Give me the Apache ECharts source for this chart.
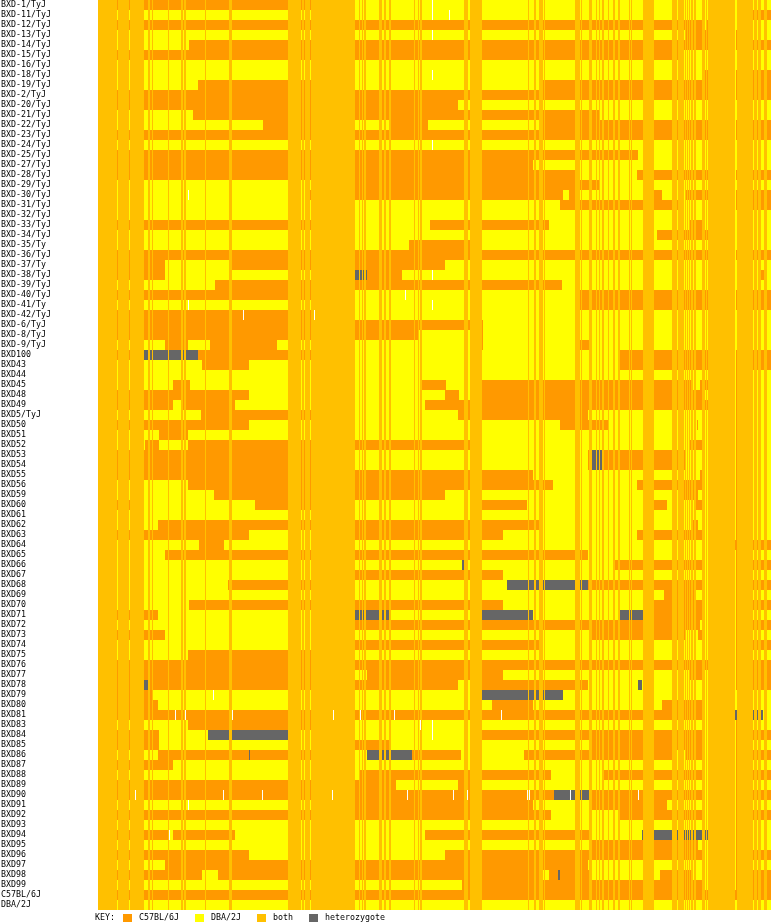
<!DOCTYPE html>
<html><head><meta charset="utf-8">
<style>html,body{margin:0;padding:0;background:#fff}#c{width:771px;height:922px}</style>
<script src="https://cdn.jsdelivr.net/npm/echarts@6/dist/echarts.min.js"></script>
</head><body><div id="c"></div>
<script>
const strains=["BXD-1/TyJ","BXD-11/TyJ","BXD-12/TyJ","BXD-13/TyJ","BXD-14/TyJ","BXD-15/TyJ","BXD-16/TyJ","BXD-18/TyJ","BXD-19/TyJ","BXD-2/TyJ","BXD-20/TyJ","BXD-21/TyJ","BXD-22/TyJ","BXD-23/TyJ","BXD-24/TyJ","BXD-25/TyJ","BXD-27/TyJ","BXD-28/TyJ","BXD-29/TyJ","BXD-30/TyJ","BXD-31/TyJ","BXD-32/TyJ","BXD-33/TyJ","BXD-34/TyJ","BXD-35/Ty","BXD-36/TyJ","BXD-37/Ty","BXD-38/TyJ","BXD-39/TyJ","BXD-40/TyJ","BXD-41/Ty","BXD-42/TyJ","BXD-6/TyJ","BXD-8/TyJ","BXD-9/TyJ","BXD100","BXD43","BXD44","BXD45","BXD48","BXD49","BXD5/TyJ","BXD50","BXD51","BXD52","BXD53","BXD54","BXD55","BXD56","BXD59","BXD60","BXD61","BXD62","BXD63","BXD64","BXD65","BXD66","BXD67","BXD68","BXD69","BXD70","BXD71","BXD72","BXD73","BXD74","BXD75","BXD76","BXD77","BXD78","BXD79","BXD80","BXD81","BXD83","BXD84","BXD85","BXD86","BXD87","BXD88","BXD89","BXD90","BXD91","BXD92","BXD93","BXD94","BXD95","BXD96","BXD97","BXD98","BXD99","C57BL/6J","DBA/2J"];
// marker spans where both parents share the allele
const sharedSpans=[[98,117],[118,129],[130,144],[148,150],[152,153],[168,169],[181,183],[184,186],[205,206],[229,232],[288,301],[302,304],[305,310],[311,355],[359,360],[362,363],[364,366],[379,382],[384,386],[389,391],[414,415],[418,419],[420,422],[464,468],[470,482],[528,529],[534,536],[539,543],[544,545],[575,580],[581,582],[589,592],[596,597],[599,600],[602,604],[608,609],[613,615],[618,620],[629,630],[631,632],[643,654],[672,677],[678,684],[685,686],[687,688],[689,690],[691,693],[694,696],[702,705],[706,707],[708,735],[737,753],[754,757],[758,761],[764,767]];
// per strain: genotype code + marker position where that genotype starts
// O=C57BL/6J, Y=DBA/2J, H=heterozygote, W=no call
const genotypeRuns=[
"O98 Y330 W432 Y433",
"Y98 W432 Y433 W449 Y450 O745",
"O98 Y703 O707 Y708",
"Y98 W432 Y433 O685 Y735 O736 Y737",
"Y98 O189 Y735 O736",
"O98 Y684",
"Y98",
"Y98 W432 Y433 O705 Y735 O736",
"Y98 O198 Y330 O543 Y735 O736",
"O98 Y735 O736",
"O98 Y458",
"Y98 O193 Y599",
"Y98 O263 Y330 O389 Y428 O543 Y735 O736",
"O98 Y735 O736",
"Y98 W432 Y433",
"O98 Y638",
"O98 Y533",
"O98 Y578 O637 Y735 O736",
"Y98 O330 Y599",
"Y98 W188 Y189 O310 Y563 O569 Y580 O654 Y662 O685 Y735 O736",
"Y98 O560 Y680 O736",
"Y98",
"O98 Y330 O430 Y549 O689 Y703",
"Y98 O657 Y708",
"Y98 O409 Y476",
"O98 Y735 O736",
"O98 Y165 O230 Y445",
"O98 Y165 H355 O367 Y402 W432 Y433 O761 Y764",
"Y98 O215 Y562",
"O98 Y330 W405 Y406 O578 Y735 O736",
"Y98 W188 Y189 W432 Y433 O578 Y735 O736",
"O98 W243 O244 W314 O315 Y330",
"O98 Y483",
"O98 Y418 O482 Y483",
"Y98 O165 Y188 O210 Y277 O482 Y483 O580 Y589",
"O98 H144 O198 Y330 O620 Y735 O736",
"Y98 O202 Y249 O620 Y735 O736",
"Y98 O736 Y737",
"Y98 O173 Y190 O422 Y446 O476 Y692 O700 Y735 O736 Y737",
"O98 Y249 O445 Y459 O476 Y703 O736 Y737",
"O98 Y173 O181 Y235 O425 Y703 O705 Y735 O736 Y737",
"Y98 O201 Y330 O458 Y588 O736 Y737",
"O98 Y249 O560 Y608 O697 Y698 O736 Y737",
"Y98 O159 Y188 O736 Y737",
"Y98 O145 Y159 O188 Y476 O690 Y703 O736 Y737",
"O98 Y330 O588 H592 O602 Y685 O736 Y737",
"O98 Y330 O588 H592 O602 Y685 O736 Y737",
"O98 Y533 O700 Y703 O736 Y737",
"Y98 O188 Y553 O637 Y703 O736 Y737",
"Y98 O214 Y445 O680 Y698 O736 Y737",
"O98 Y144 O255 Y330 O476 Y527 O654 Y667 O695 Y703 O736 Y737",
"Y98 O736 Y737",
"Y98 O158 Y540 O692 Y698 O736 Y737",
"O98 Y249 O330 Y503 O637 Y703 O736 Y737",
"Y98 O199 Y224 O735",
"Y98 O165 Y588 O736 Y737",
"Y98 H462 Y464 O614 Y703 O736",
"Y98 O330 Y503 O736 Y737",
"Y98 O228 Y330 H507 O588 Y703 O736",
"Y98 O664 Y696 O736 Y737",
"Y98 O189 Y503 O654 Y703 O736",
"O98 Y158 H355 Y389 H476 Y533 H618 O643 Y703 O736 Y737",
"Y98 O330 Y700 O736",
"O98 Y165 O590 Y685 O698 Y703 O736 Y737",
"Y98 O330 Y540 O736",
"Y98 O188 Y330 O736 Y737",
"O98 Y735 O736",
"O98 Y355 O367 Y503 O690 Y703 O736",
"O98 H144 O148 Y458 O476 Y588 H638 Y642 O736",
"O98 Y153 W213 Y214 H476 Y563",
"O98 Y158 O492 Y533 O662 Y703",
"O98 W175 O176 W185 O186 W232 O233 W333 O334 W360 O361 W394 O395 W501 O502 Y703 H735 Y763",
"Y98 O188 Y330 W420 Y421 W432 Y433 O736 Y737",
"O98 Y159 H208 Y288 W432 Y433 O476 Y703 O736",
"O98 Y159 O330 Y389 O590 Y703 O736 Y737",
"Y98 O158 H249 O250 Y330 H367 O412 Y461 O524 Y677 O685 Y703 O736",
"O98 Y173 O736 Y737",
"Y98 O360 Y551 O603 Y703 O736",
"O98 Y396 O458 Y476 O736 Y737",
"O98 W135 O136 W223 O224 W262 O263 W332 O333 W407 O408 W453 O454 W467 O468 W527 O528 W529 O530 H554 W570 H571 O589 W638 O639 Y703 O736",
"Y98 W188 Y189 O330 Y533 O590 Y667 O736 Y737",
"O98 Y551 O618 Y703 O736",
"Y98 O736 Y737",
"O98 W169 Y170 O173 Y235 O425 Y590 H642 Y708 O736 Y737",
"Y98 O590 Y698 O736 Y737",
"O98 Y249 O445 Y703 O736",
"Y98 O165 Y588 O736 Y737",
"O98 Y202 O218 Y543 O549 H558 O560 Y590 O660 Y691 O736",
"Y98 O462 Y703 O736",
"O98",
"Y98"
];
const keyNames={O:"C57BL/6J",Y:"DBA/2J",B:"both",H:"heterozygote"};
const colors={O:"#FF9900",Y:"#FFFF00",B:"#FFC000",H:"#666666",W:"#FFFFFF"};
const axisEnd=771;

const segs={O:[],Y:[],H:[],W:[],B:[]};
genotypeRuns.forEach((s,row)=>{
  const parts=s.split(" ");
  parts.forEach((p,i)=>{
    const code=p[0], start=+p.slice(1);
    const end=i+1<parts.length?+parts[i+1].slice(1):axisEnd;
    segs[code].push([row,start,end]);
  });
  sharedSpans.forEach(sp=>segs.B.push([row,sp[0],sp[1]]));
});
function renderCell(params,api){
  const a=api.coord([api.value(1),api.value(0)]);
  const b=api.coord([api.value(2),api.value(0)]);
  const h=api.size([0,1])[1];
  return {type:"rect",shape:{x:a[0],y:a[1]-h/2,width:b[0]-a[0],height:h},
    style:{fill:api.visual("color")},silent:true};
}
function series(name,code,z){
  return {type:"custom",name,data:segs[code],renderItem:renderCell,z,
    itemStyle:{color:colors[code]},
    encode:{x:[1,2],y:0},animation:false,silent:true,progressive:0,clip:false};
}
const keyLeft={O:123,Y:195,B:257,H:309};
const legendFont={fontFamily:"DejaVu Sans Mono",fontSize:8.3,color:"#000"};
const chart=echarts.init(document.getElementById("c"),null,{renderer:"canvas"});
chart.setOption({
  animation:false,
  backgroundColor:"#fff",
  title:{text:"KEY:",left:95,top:914,padding:0,textStyle:{fontFamily:"DejaVu Sans Mono",fontSize:8.3,fontWeight:"normal",color:"#000"}},
  grid:{left:98,top:0,width:673,height:910,containLabel:false,outerBoundsMode:"none"},
  xAxis:{type:"value",min:98,max:axisEnd,show:false},
  yAxis:{type:"category",data:strains,inverse:true,
    axisLine:{show:false},axisTick:{show:false},splitLine:{show:false},
    axisLabel:{interval:0,align:"left",margin:97,fontFamily:"DejaVu Sans Mono",fontSize:8.3,color:"#000"}},
  legend:Object.keys(keyLeft).map(k=>({
    data:[keyNames[k]],left:keyLeft[k],top:914,padding:0,itemWidth:9,itemHeight:8,itemGap:0,
    selectedMode:false,icon:"rect",textStyle:Object.assign({padding:[0,0,0,2]},legendFont)
  })),
  series:[series(keyNames.O,"O",2),series(keyNames.Y,"Y",2),series(keyNames.H,"H",2),
          series(keyNames.B,"B",3),series("no call","W",4)]
});
</script></body></html>
